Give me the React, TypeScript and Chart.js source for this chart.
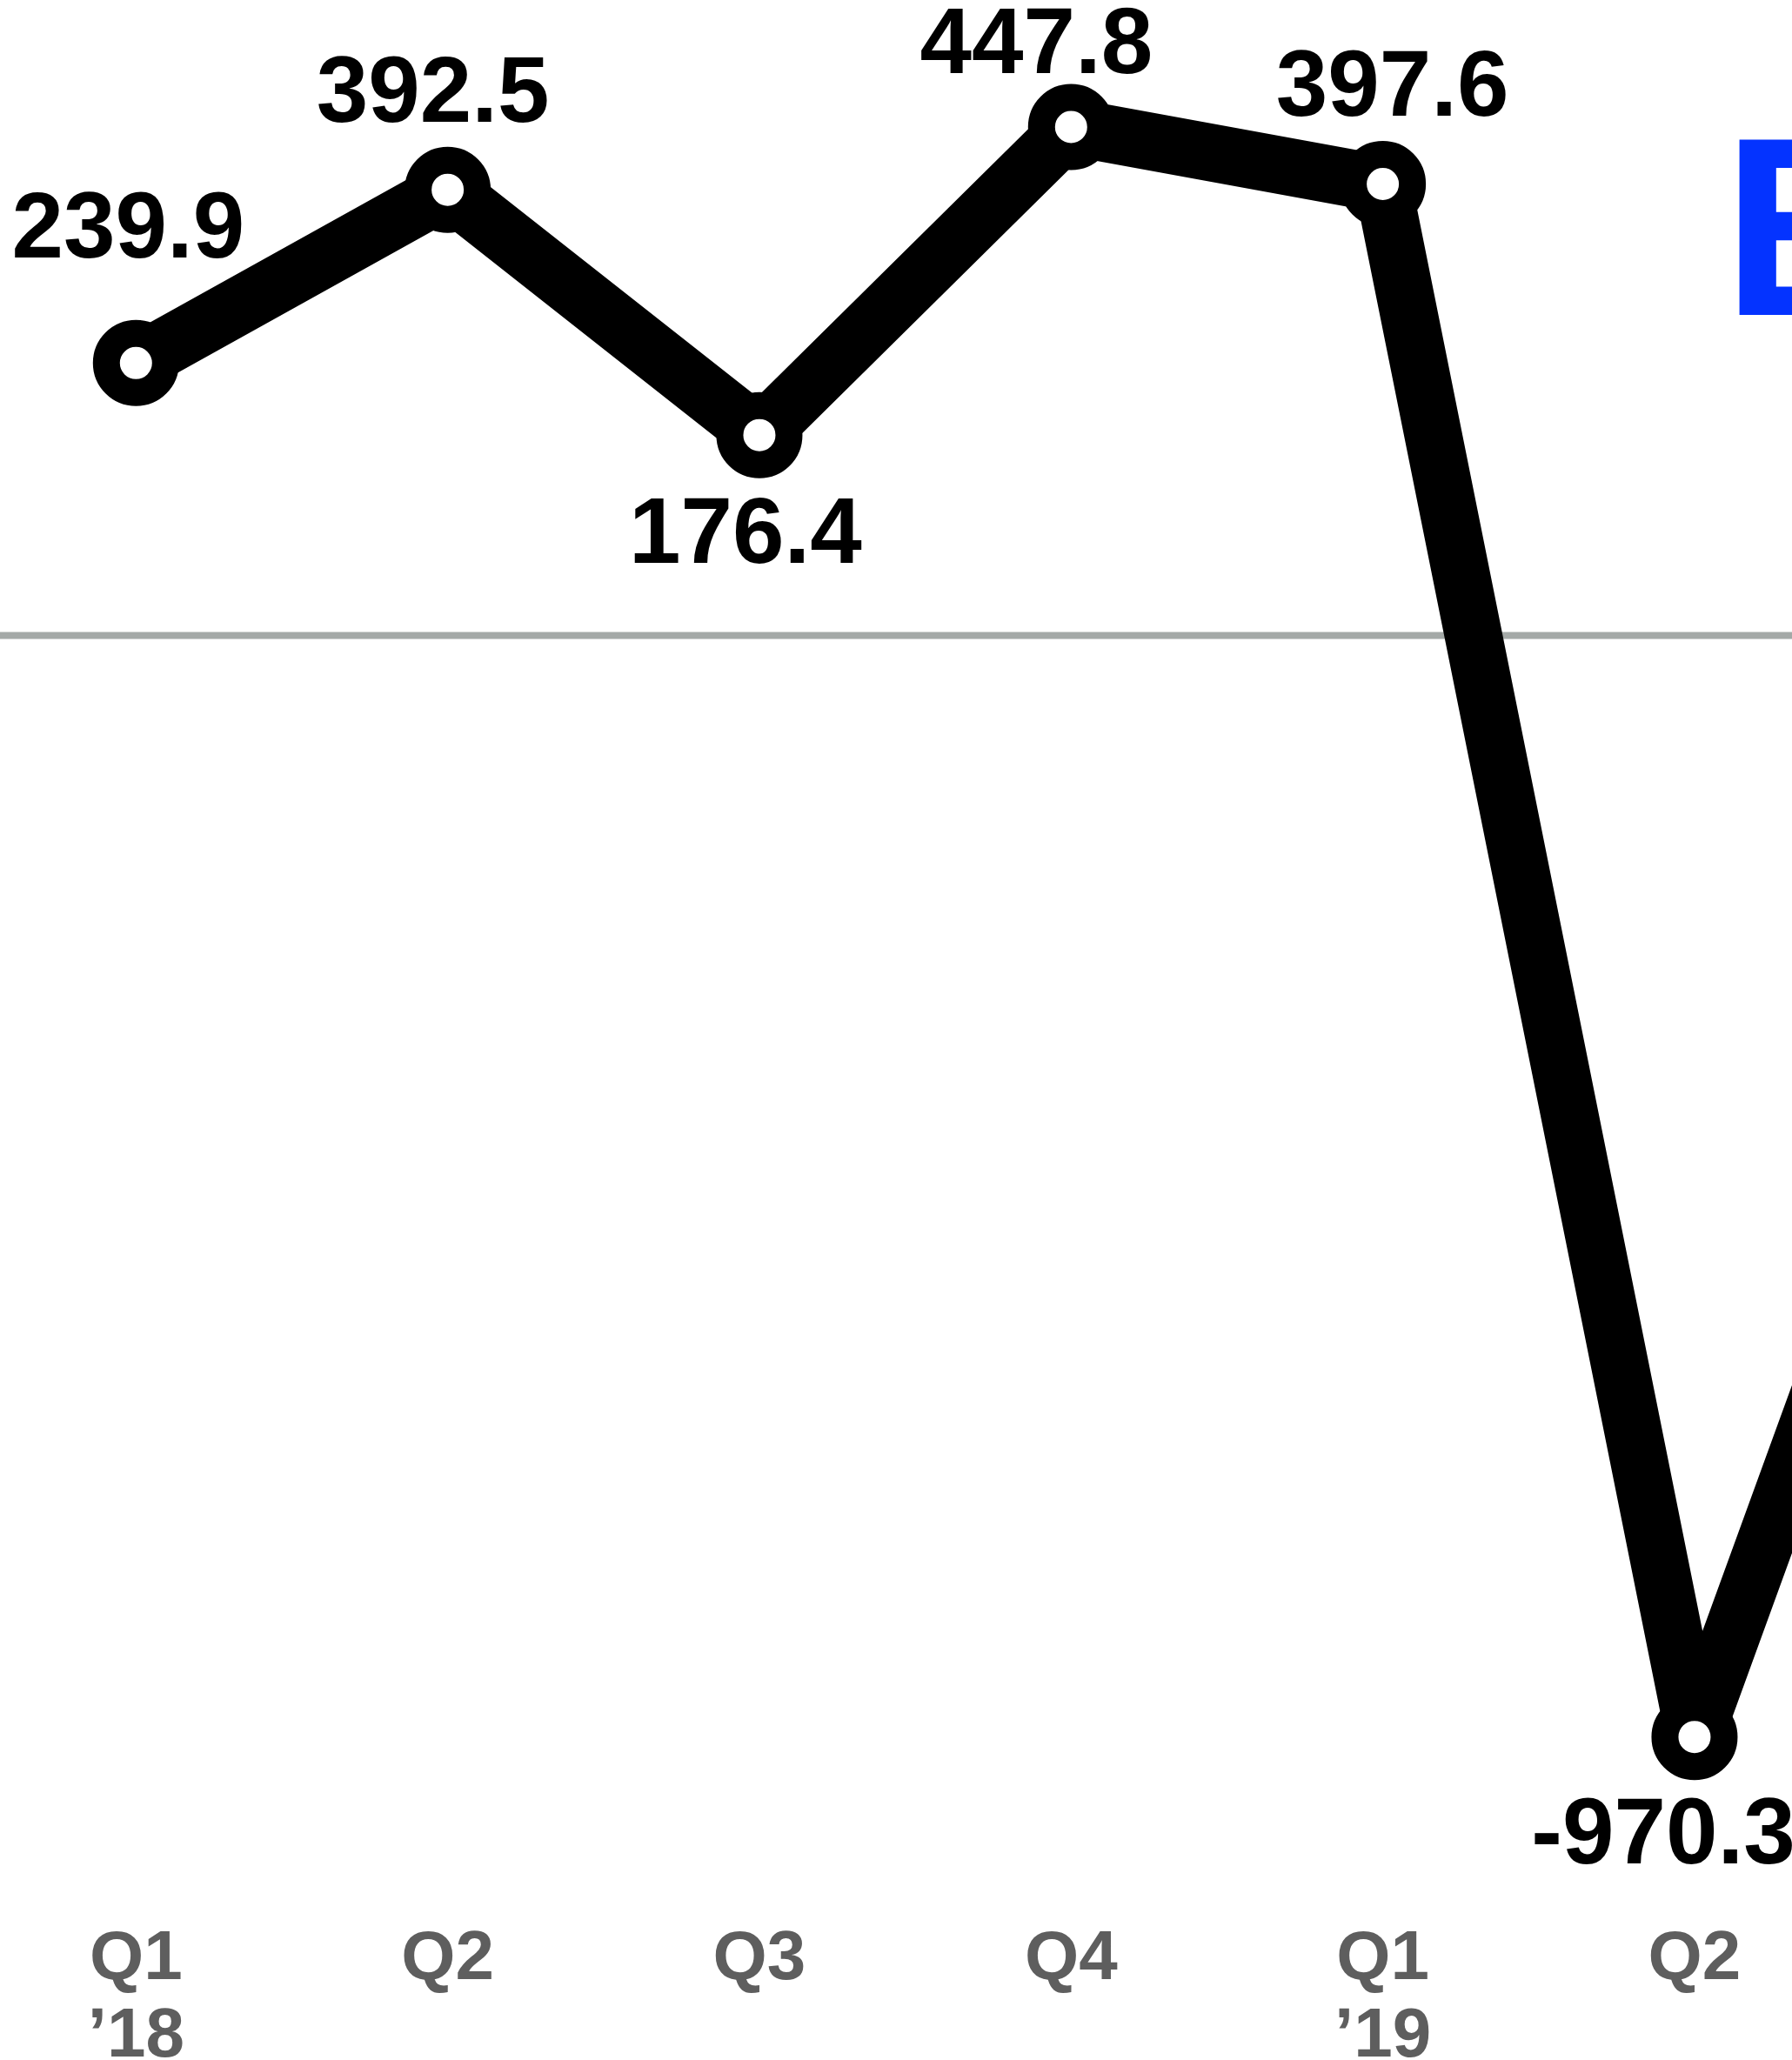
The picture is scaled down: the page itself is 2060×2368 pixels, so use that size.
import React, { useEffect, useRef } from "react";
import { Chart, registerables } from "chart.js";

Chart.register(...registerables);

// Quarterly results, Q1 2018 onward
const quarterLabels = ["Q1", "Q2", "Q3", "Q4", "Q1", "Q2", "Q3"];
const yearLabels = ["\u201918", "", "", "", "\u201919", "", ""];
const values = [239.9, 392.5, 176.4, 447.8, 397.6, -970.3, -216];

// Value-label placement relative to each point: [dx, baseline dy]
const labelOffsets: [number, number][] = [
  [-9, -121],
  [-17, -78],
  [-16, 147],
  [-40, -62],
  [11, -79],
  [-36, 145],
  [0, -79],
];

const titleText = "E";

const W = 2060;
const H = 2368;
const FONT = '"Liberation Sans", Arial, Helvetica, sans-serif';

const zeroLinePlugin = {
  id: "zeroLine",
  beforeDatasetsDraw(chart: any) {
    const { ctx, chartArea, scales } = chart;
    const y = scales.y.getPixelForValue(0);
    ctx.save();
    ctx.strokeStyle = "#a4a9a7";
    ctx.lineWidth = 8;
    ctx.beginPath();
    ctx.moveTo(chartArea.left, y);
    ctx.lineTo(chartArea.right, y);
    ctx.stroke();
    ctx.restore();
  },
};

const textPlugin = {
  id: "texts",
  afterDatasetsDraw(chart: any) {
    const { ctx, scales } = chart;
    const xs = scales.x;
    const ys = scales.y;
    ctx.save();

    // value labels
    ctx.fillStyle = "#000000";
    ctx.font = `bold 107px ${FONT}`;
    ctx.textAlign = "center";
    ctx.textBaseline = "alphabetic";
    values.forEach((v, i) => {
      const px = xs.getPixelForValue(i);
      const py = ys.getPixelForValue(v);
      const [dx, dy] = labelOffsets[i];
      ctx.fillText(v.toFixed(1), px + dx, py + dy);
    });

    // category labels along the bottom
    ctx.fillStyle = "#5e5e5e";
    ctx.font = `bold 80px ${FONT}`;
    const row1 = chart.height - 93;
    const row2 = chart.height - 4;
    quarterLabels.forEach((q, i) => {
      const px = xs.getPixelForValue(i);
      ctx.fillText(q, px, row1);
      if (yearLabels[i]) ctx.fillText(yearLabels[i], px, row2);
    });

    // title
    ctx.fillStyle = "#0433ff";
    ctx.font = `bold 293px ${FONT}`;
    ctx.textAlign = "left";
    ctx.fillText(titleText, 1980, 362);

    ctx.restore();
  },
};

export default function App() {
  const canvasRef = useRef<HTMLCanvasElement | null>(null);

  useEffect(() => {
    document.body.style.margin = "0";
    document.body.style.overflow = "hidden";
    const canvas = canvasRef.current;
    if (!canvas) return;

    // pixel mapping: point spacing ~358px, first point at x≈156, zero line at y≈730
    const step = 358.33;
    const firstX = 156.3;
    const zeroY = 730.4;
    const pxPerUnit = 1.305;

    const chart = new Chart(canvas, {
      type: "line",
      data: {
        datasets: [
          {
            data: values.map((v, i) => ({ x: i, y: v })),
            borderColor: "#000000",
            borderWidth: 66,
            borderJoinStyle: "round",
            borderCapStyle: "butt",
            tension: 0,
            pointRadius: 34,
            pointHoverRadius: 34,
            pointBorderWidth: 31,
            pointHoverBorderWidth: 31,
            pointBackgroundColor: "#ffffff",
            pointBorderColor: "#000000",
            fill: false,
          },
        ],
      },
      options: {
        animation: false,
        responsive: false,
        devicePixelRatio: 1,
        events: [],
        layout: { padding: 0, autoPadding: false },
        plugins: {
          legend: { display: false },
          tooltip: { enabled: false },
        },
        scales: {
          x: {
            type: "linear",
            display: false,
            min: -firstX / step,
            max: (W - firstX) / step,
          },
          y: {
            type: "linear",
            display: false,
            min: (zeroY - H) / pxPerUnit,
            max: zeroY / pxPerUnit,
          },
        },
      },
      plugins: [zeroLinePlugin, textPlugin],
    } as any);

    return () => chart.destroy();
  }, []);

  return (
    <div style={{ position: "absolute", left: 0, top: 0, width: W, height: H, background: "#ffffff" }}>
      <canvas ref={canvasRef} width={W} height={H} style={{ display: "block", width: W, height: H }} />
    </div>
  );
}
